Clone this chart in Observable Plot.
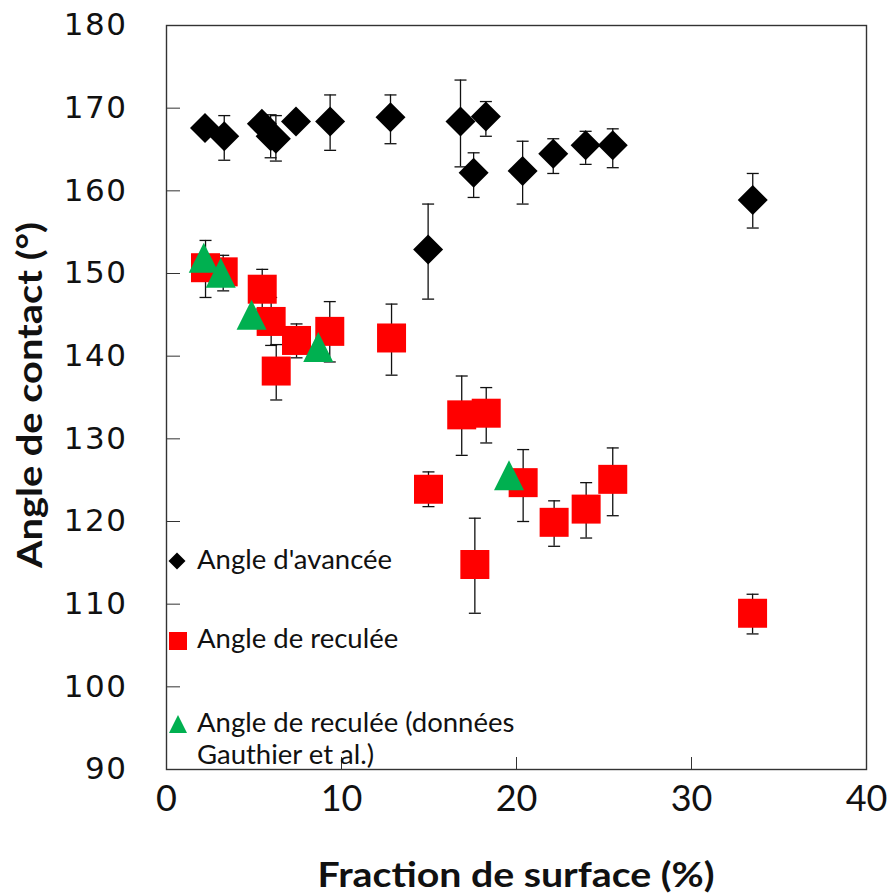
<!DOCTYPE html>
<html>
<head>
<meta charset="utf-8">
<script src="https://cdn.jsdelivr.net/npm/d3@7"></script>
<script src="https://cdn.jsdelivr.net/npm/@observablehq/plot@0.6"></script>
<style>
  html, body { margin: 0; padding: 0; background: #fff; }
  #wrap { position: relative; width: 888px; height: 896px; }
  #overlay { position: absolute; left: 0; top: 0; pointer-events: none; }
  g[aria-label="y-axis tick label"] text { font-family: "DejaVu Sans", sans-serif; font-size: 31px; letter-spacing: 1.5px; fill: #111; }
  g[aria-label="x-axis tick label"] text { font-family: Lato, sans-serif; font-size: 36px; fill: #111; }
</style>
</head>
<body>
<div id="wrap"></div>
<script>
// ---- Data ----
const xTicks = [0, 10, 20, 30, 40];
const yTicks = [90, 100, 110, 120, 130, 140, 150, 160, 170, 180];

// Angle d'avancée (black diamonds)
const advX  = [2.2, 3.3, 5.45, 5.95, 6.25, 7.4, 9.35, 12.8, 14.95, 16.8, 17.55, 18.25, 20.35, 22.1, 23.95, 25.5, 33.5];
const advY  = [167.6, 166.6, 168.1, 166.6, 166.3, 168.4, 168.4, 168.9, 152.9, 168.4, 162.2, 169.0, 162.4, 164.5, 165.5, 165.5, 158.9];
const advLo = [null, 163.7, null, 164.0, 163.6, null, 164.9, 165.7, 146.9, 162.9, 159.2, 166.6, 158.4, 162.1, 163.2, 162.8, 155.5];
const advHi = [null, 169.1, null, 169.2, 169.1, null, 171.6, 171.6, 158.4, 173.4, 164.6, 170.8, 166.0, 166.3, 167.2, 167.5, 162.1];

// Angle de reculée (red squares)
const recX  = [2.23, 3.24, 5.47, 5.98, 6.27, 7.43, 9.33, 12.86, 14.97, 16.87, 18.27, 17.62, 20.38, 22.15, 23.98, 25.5, 33.49];
const recY  = [150.7, 150.2, 148.1, 144.2, 138.2, 141.9, 143.0, 142.2, 123.9, 132.9, 133.1, 114.8, 124.7, 119.9, 121.5, 125.1, 108.9];
const recLo = [147.1, 147.9, 145.7, 141.3, 134.7, 139.8, 139.3, 137.7, 121.8, 128.0, 129.5, 108.9, 120.0, 117.0, 118.0, 120.7, 106.4];
const recHi = [154.0, 152.2, 150.5, 147.1, 141.4, 143.9, 146.6, 146.3, 126.0, 137.6, 136.2, 120.4, 128.7, 122.5, 124.7, 128.9, 111.2];

// Angle de reculée (données Gauthier et al.) (green triangles)
const gauX = [2.13, 3.1, 4.86, 8.67, 19.57];
const gauY = [151.9, 150.1, 145.0, 141.1, 125.6];

const legendLabels = ["Angle d'avancée", "Angle de reculée", "Angle de reculée (données", "Gauthier et al.)"];
const xTitle = "Fraction de surface (%)";
const yTitle = "Angle de contact (°)";

const colors = {adv: "#000000", rec: "#FF0000", gau: "#00B050"};

// ---- Tables ----
const adv = advX.map((x, i) => ({x, y: advY[i], lo: advLo[i], hi: advHi[i]}));
const rec = recX.map((x, i) => ({x, y: recY[i], lo: recLo[i], hi: recHi[i]}));
const gau = gauX.map((x, i) => ({x, y: gauY[i]}));
const errs = [...adv, ...rec].filter(d => d.lo != null);

// ---- Custom symbols ----
const half = size => Math.sqrt(size / Math.PI);
const capSym = {draw(c, s) { const r = half(s); c.moveTo(-r, 0); c.lineTo(r, 0); }};
const diamondSym = {draw(c, s) { const r = half(s); c.moveTo(0, -r); c.lineTo(r, 0); c.lineTo(0, r); c.lineTo(-r, 0); c.closePath(); }};
const squareSym = {draw(c, s) { const r = half(s); c.rect(-r, -r, 2 * r, 2 * r); }};
const triSym = {draw(c, s) { const r = half(s); c.moveTo(0, -r); c.lineTo(r, r); c.lineTo(-r, r); c.closePath(); }};

const W = 888, H = 896;
const chart = Plot.plot({
  width: W, height: H,
  marginLeft: 166, marginRight: 22, marginTop: 25, marginBottom: 127,
  style: {fontFamily: "Lato, sans-serif", background: "#fff"},
  x: {domain: [0, 40], label: null},
  y: {domain: [90, 180], label: null},
  marks: [
    Plot.axisY({ticks: yTicks, tickSize: -14, tickPadding: 53, stroke: "#333", label: null}),
    Plot.axisX({ticks: xTicks, tickSize: -12, tickPadding: 28, stroke: "#333", label: null}),
    Plot.frame({stroke: "#333", strokeWidth: 1.4}),
    Plot.ruleX(errs, {x: "x", y1: "lo", y2: "hi", stroke: "#111", strokeWidth: 1.3}),
    Plot.dot(errs, {x: "x", y: "lo", symbol: capSym, r: 6, stroke: "#111", strokeWidth: 1.3, fill: "none"}),
    Plot.dot(errs, {x: "x", y: "hi", symbol: capSym, r: 6, stroke: "#111", strokeWidth: 1.3, fill: "none"}),
    Plot.dot(adv, {x: "x", y: "y", symbol: diamondSym, r: 15, fill: colors.adv, stroke: "none"}),
    Plot.dot(rec, {x: "x", y: "y", symbol: squareSym, r: 14.5, fill: colors.rec, stroke: "none"}),
    Plot.dot(gau, {x: "x", y: "y", symbol: triSym, r: 15, fill: colors.gau, stroke: "none"})
  ]
});

const wrap = document.getElementById("wrap");
wrap.appendChild(chart);

// ---- Overlay: legend and axis titles ----
const ov = d3.select(wrap).append("svg").attr("id", "overlay").attr("width", W).attr("height", H)
  .attr("font-family", "Lato, sans-serif");

const sym = (s, r) => d3.symbol(s, r * r * Math.PI)();
const legendRows = [
  {symbol: diamondSym, r: 8.5, color: colors.adv, cx: 177, cy: 561, text: [legendLabels[0]], base: 569},
  {symbol: squareSym, r: 9, color: colors.rec, cx: 178, cy: 641, text: [legendLabels[1]], base: 648},
  {symbol: triSym, r: 9, color: colors.gau, cx: 178, cy: 724, text: [legendLabels[2], legendLabels[3]], base: 732}
];
for (const row of legendRows) {
  ov.append("path").attr("d", sym(row.symbol, row.r)).attr("transform", `translate(${row.cx},${row.cy})`).attr("fill", row.color);
  row.text.forEach((t, j) => {
    ov.append("text").attr("x", 197).attr("y", row.base + j * 32).attr("font-size", 27.5).attr("fill", "#111").text(t);
  });
}

ov.append("text").attr("x", 516).attr("y", 887).attr("text-anchor", "middle")
  .attr("font-size", 34).attr("font-weight", "bold").attr("fill", "#111")
  .attr("textLength", 397).attr("lengthAdjust", "spacingAndGlyphs").text(xTitle);
ov.append("text").attr("transform", "translate(42,395) rotate(-90)").attr("text-anchor", "middle")
  .attr("font-size", 34).attr("font-weight", "bold").attr("fill", "#111")
  .attr("textLength", 346).attr("lengthAdjust", "spacingAndGlyphs").text(yTitle);
</script>
</body>
</html>
